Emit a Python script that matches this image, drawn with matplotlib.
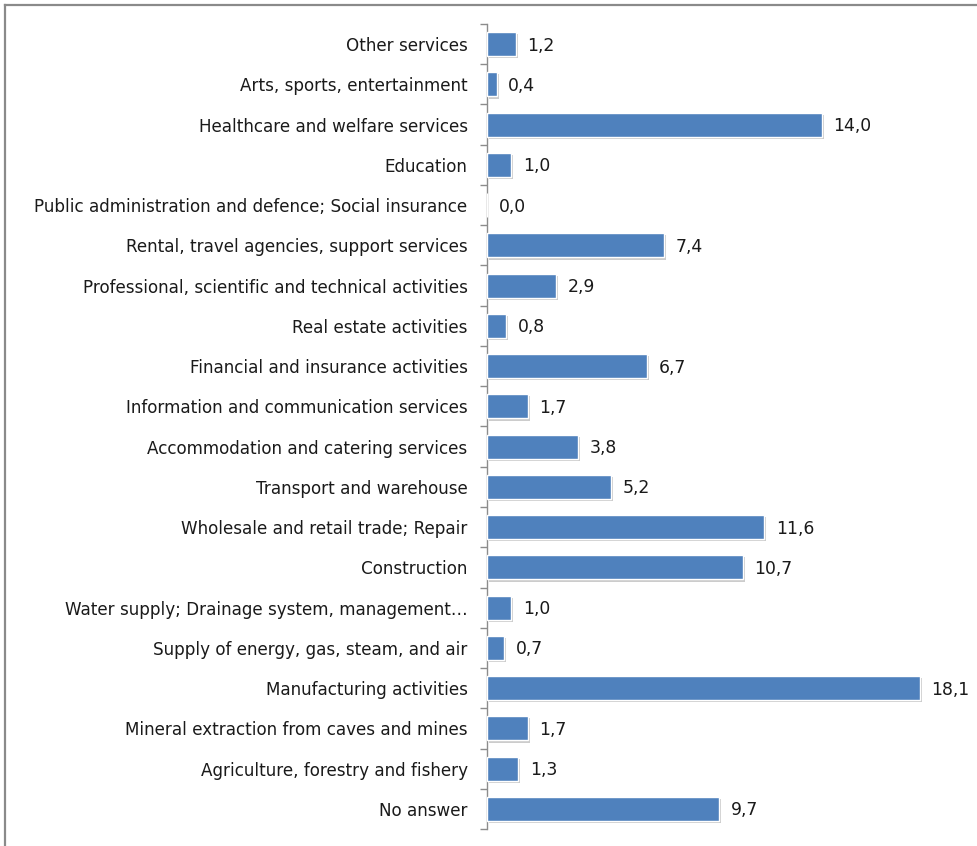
import matplotlib.pyplot as plt
import matplotlib.patheffects as pe
from matplotlib.lines import Line2D
from matplotlib.ticker import FixedLocator

# sectors, bottom to top as drawn
sectors = [
    "No answer",
    "Agriculture, forestry and fishery",
    "Mineral extraction from caves and mines",
    "Manufacturing activities",
    "Supply of energy, gas, steam, and air",
    "Water supply; Drainage system, management…",
    "Construction",
    "Wholesale and retail trade; Repair",
    "Transport and warehouse",
    "Accommodation and catering services",
    "Information and communication services",
    "Financial and insurance activities",
    "Real estate activities",
    "Professional, scientific and technical activities",
    "Rental, travel agencies, support services",
    "Public administration and defence; Social insurance",
    "Education",
    "Healthcare and welfare services",
    "Arts, sports, entertainment",
    "Other services",
]
shares = [9.7, 1.3, 1.7, 18.1, 0.7, 1.0, 10.7, 11.6, 5.2, 3.8,
          1.7, 6.7, 0.8, 2.9, 7.4, 0.0, 1.0, 14.0, 0.4, 1.2]

plt.rcParams['font.family'] = ['DejaVu Sans']

W, H = 978, 846
fig = plt.figure(figsize=(W / 100, H / 100), dpi=100)
ax = fig.add_axes([487 / W, 1 - 829 / H, 1 - 487 / W, (829 - 24) / H])

pos = list(range(len(sectors)))
bars = ax.barh(pos, shares, height=0.6, color="#4F81BD", edgecolor="white",
               linewidth=1.0, zorder=3)
for b in bars:
    b.set_path_effects([pe.SimplePatchShadow(offset=(1.5, -1.5), shadow_rgbFace="#000000",
                                             alpha=0.2), pe.Normal()])

for y, v in zip(pos, shares):
    ax.annotate(f"{v:.1f}".replace(".", ","), (v, y), xytext=(8.5, -1),
                textcoords="offset points", va="center", ha="left",
                fontsize=12.4, color="#1a1a1a")

ax.set_xlim(0, (W - 487) / 23.9)
ax.set_ylim(-0.5, len(sectors) - 0.5)

ax.set_yticks(pos)
ax.set_yticklabels(sectors, fontsize=12.1, color="#1a1a1a")
ax.tick_params(axis="y", which="major", length=0, pad=14)
ax.yaxis.set_minor_locator(FixedLocator([p - 0.5 for p in range(len(sectors) + 1)]))
ax.tick_params(axis="y", which="minor", length=5, width=1, color="#8c8c8c")
ax.set_xticks([])

for s in ["top", "right", "bottom"]:
    ax.spines[s].set_visible(False)
ax.spines["left"].set_color("#8c8c8c")
ax.spines["left"].set_linewidth(1)

# outer border of the chart area
fig.add_artist(Line2D([5 / W, 5 / W], [0, 1 - 5 / H], color="#8a8a8a", lw=1.6,
                      transform=fig.transFigure))
fig.add_artist(Line2D([5 / W, 1], [1 - 5 / H, 1 - 5 / H], color="#8a8a8a", lw=1.6,
                      transform=fig.transFigure))

fig.savefig("out.png", dpi=100)
